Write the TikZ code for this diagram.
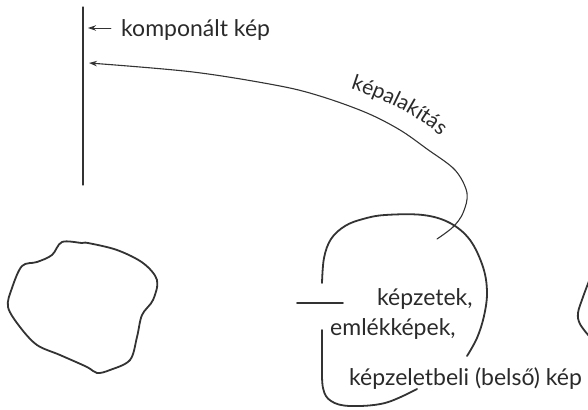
\documentclass[tikz,border=0pt]{standalone}
\usepackage{fontspec}
\setmainfont{Lato}
\usetikzlibrary{arrows.meta,decorations.text}
\definecolor{ink}{HTML}{333333}
\definecolor{txt}{HTML}{2A2A2A}
\tikzset{
  pen/.style={draw=ink, line width=1.1pt, line cap=round, line join=round},
  thickpen/.style={draw=ink, line width=1.8pt, line cap=round, line join=round},
  lbl/.style={inner sep=0pt, anchor=base west, text=txt, font=\fontsize{23}{27}\selectfont},
  tip/.style={-{Stealth[length=8pt,width=5.5pt]}}
}
\begin{document}
\begin{tikzpicture}[x=1pt,y=-1pt]
\useasboundingbox (0,0) rectangle (588,409);

% the screen on the left
\coordinate (screenTop) at (83,7);
\coordinate (screenBot) at (83,185);
\draw[pen] (screenTop) -- (screenBot);

% label of the composed picture
\node[lbl] (komp) at (121,37) {komponált kép};
\coordinate (kompTip) at (88,28);
\draw[pen,tip,line width=0.9pt] (komp.west |- 0,28) ++(-10,0) coordinate (kompTail) -- (kompTip);

% image-forming arrow
\coordinate (formStart) at (437,239);
\coordinate (formEnd) at (89,63);
\draw[pen,tip] plot[smooth, tension=0.55] coordinates {
  (formStart) (453,227) (463,213) (467,193) (455,170) (427,149) (400,130)
  (367,113) (323,97) (280,86) (193,72) (formEnd)};
\path[decorate, decoration={text along path, text align=center,
      text={|\fontsize{21}{25}\selectfont\color{txt}|képalakítás}}]
  (331,83) .. controls (375,95) and (422,114) .. (455,150);

% the inner-image loop
\draw[thickpen] plot[smooth, tension=0.6] coordinates {
  (322,283) (324,258) (331,239) (345,226) (363,219) (385,215) (423,215)
  (450,223) (470,240) (483,267) (487,292) (484,316) (477,338) (467,356)};
\coordinate (dashL) at (297,303);
\coordinate (dashR) at (343,303);
\draw[thickpen] (dashL) -- (dashR);
\draw[thickpen] plot[smooth, tension=0.6] coordinates {
  (322,330) (322,360) (323,388) (331,401) (350,406) (385,403) (417,389)};

% labels of the inner images
\node[lbl] (kepzetek) at (377,305) {képzetek,};
\node[lbl] (emlek) at (330,335) {emlékképek,};
\node[lbl] (belso) at (349,385) {képzeletbeli (belső) kép};

% object on the left
\draw[thickpen] plot[smooth cycle, tension=0.55] coordinates {
  (62,242) (82,243) (88,243) (117,250) (143,263) (157,280) (153,300)
  (142,315) (137,337) (130,360) (110,370) (97,373) (87,367) (60,355)
  (37,345) (20,327) (8,307) (12,288) (22,266) (37,262) (52,255)};

% edge of the object on the right
\draw[thickpen] plot[smooth, tension=0.6] coordinates {
  (589,281) (583,297) (578,313) (580,324) (589,336)};
\end{tikzpicture}
\end{document}
